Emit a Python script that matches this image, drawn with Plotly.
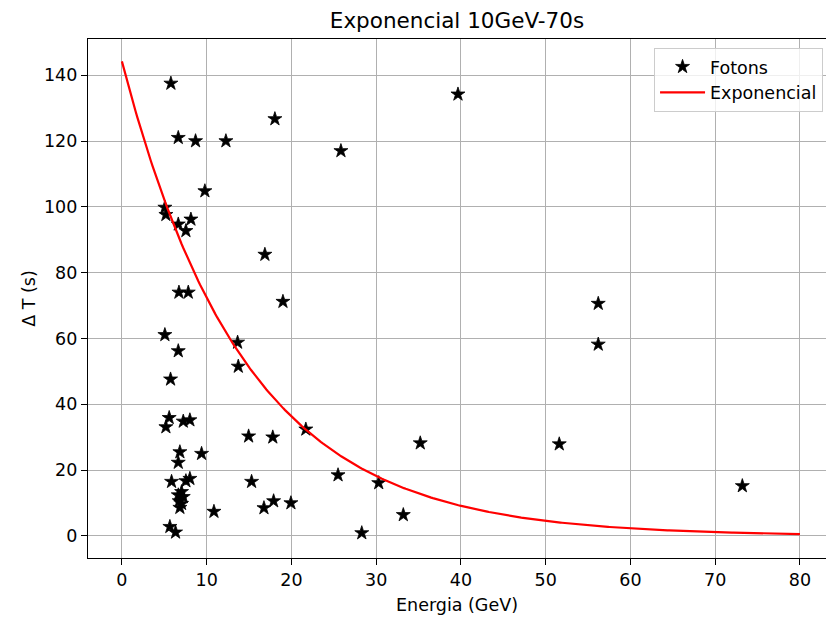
import numpy as np
import plotly.graph_objects as go

# Photon data (energy in GeV, delta T in s)
energia = [5.78, 6.65, 8.69, 12.27, 9.79, 5.07, 5.19, 6.65, 8.14, 7.55, 6.73, 7.83,
           5.07, 6.65, 5.74, 13.65, 13.73, 5.58, 5.19, 7.24, 8.02, 14.95, 6.84, 6.65,
           9.40, 5.86, 7.55, 8.02, 15.3, 10.86, 5.66, 6.33,
           7.04, 6.65, 7.24, 6.76, 7.04, 6.84,
           18.05, 25.84, 39.65, 16.87, 19.0, 21.7, 17.8, 17.9, 16.76, 19.94, 25.5,
           28.3, 30.3, 33.2, 35.2, 51.6, 56.2, 56.2, 73.2]
delta_t = [137.5, 121.0, 120.0, 120.0, 104.8, 99.8, 97.6, 94.7, 96.2, 92.7, 74.0, 74.0,
           61.1, 56.2, 47.6, 58.8, 51.5, 35.9, 33.1, 34.8, 35.2, 30.3, 25.5, 22.3,
           25.0, 16.5, 16.7, 17.4, 16.5, 7.4, 2.8, 1.1,
           13.4, 12.4, 11.9, 10.6, 9.8, 8.6,
           126.7, 117.0, 134.2, 85.5, 71.2, 32.4, 30.0, 10.6, 8.5, 10.0, 18.5,
           0.9, 16.1, 6.4, 28.2, 27.9, 70.6, 58.2, 15.2]

# Exponential fit parameters
amp = 144.2
tau = 14.5
e_fit = np.linspace(0, 80, 400)
t_fit = amp * np.exp(-e_fit / tau)

x_ticks = [0, 10, 20, 30, 40, 50, 60, 70, 80]
y_ticks = [0, 20, 40, 60, 80, 100, 120, 140]

FONT = "DejaVu Sans"
FS = 17.5

fig = go.Figure()
fig.add_trace(go.Scatter(
    x=energia, y=delta_t, mode="markers", name="Fotons",
    marker=dict(symbol="star", size=10.5, color="black",
                line=dict(width=0.8, color="black"))
))
fig.add_trace(go.Scatter(
    x=e_fit, y=t_fit, mode="lines", name="Exponencial",
    line=dict(color="red", width=2.2)
))

axis_common = dict(
    showgrid=True, gridcolor="#b0b0b0", gridwidth=1.2,
    zeroline=False, ticks="outside", ticklen=6, tickwidth=1.2, tickcolor="black",
    linecolor="black", linewidth=1.2, showline=True,
    tickfont=dict(family=FONT, size=FS, color="black"),
)

fig.update_layout(
    width=826, height=617,
    margin=dict(l=88, r=0, t=39, b=59),
    paper_bgcolor="white", plot_bgcolor="white",
    font=dict(family=FONT, size=FS, color="black"),
    title=dict(text="Exponencial 10GeV-70s", x=0.5, xref="paper",
               xanchor="center", y=1 - 20 / 617, yanchor="middle",
               font=dict(family=FONT, size=21.5, color="black")),
    xaxis=dict(range=[-4.0, 83.07], tickvals=x_ticks, mirror=True,
               title=dict(text="Energia (GeV)", font=dict(family=FONT, size=FS), standoff=9),
               **axis_common),
    yaxis=dict(range=[-6.7, 151.0], tickvals=y_ticks, mirror=False,
               title=dict(text="Δ T (s)", font=dict(family=FONT, size=FS), standoff=3),
               **axis_common),
    legend=dict(x=0.996, y=0.983, xanchor="right", yanchor="top",
                bgcolor="rgba(255,255,255,0.8)", bordercolor="#cccccc", borderwidth=1,
                font=dict(family=FONT, size=FS, color="black"),
                itemwidth=45, tracegroupgap=4),
    showlegend=True,
)

fig.write_html("out.html")
